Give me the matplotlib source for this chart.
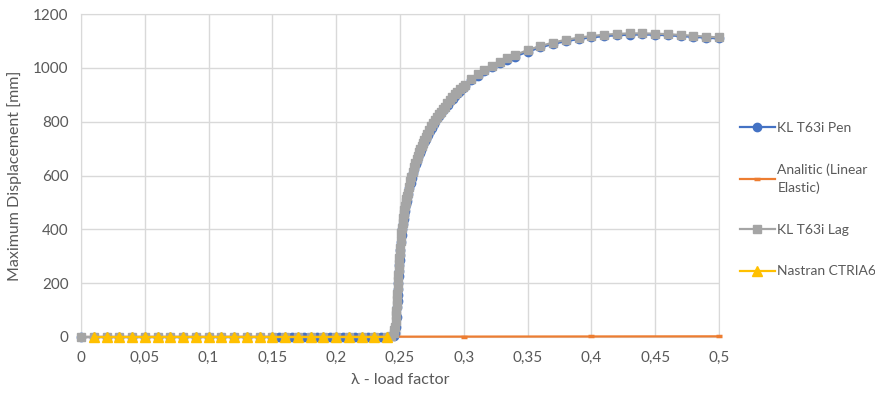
import matplotlib
matplotlib.use("Agg")
import matplotlib.pyplot as plt
from matplotlib.ticker import FixedLocator, FixedFormatter

plt.rcParams["font.family"] = ["Lato", "DejaVu Sans"]

TEXT = "#595959"
GRID = "#D9D9D9"

# KL T63i Pen
pen_lambda = [0.00, 0.01, 0.02, 0.03, 0.04, 0.05, 0.06, 0.07, 0.08, 0.09,
              0.10, 0.11, 0.12, 0.13, 0.14, 0.15, 0.155, 0.16, 0.165, 0.17,
              0.175, 0.18, 0.185, 0.19, 0.195, 0.20, 0.205, 0.21, 0.215,
              0.22, 0.225, 0.23, 0.235, 0.24, 0.245, 0.2458, 0.2465, 0.2473,
              0.2478, 0.24805, 0.2483, 0.24855, 0.2488, 0.24905, 0.2493,
              0.24955, 0.2498, 0.25005, 0.2503, 0.2508, 0.2513, 0.2518,
              0.2523, 0.2528, 0.2533, 0.2538, 0.2543, 0.2548, 0.2553, 0.2558,
              0.2563, 0.2573, 0.2583, 0.2593, 0.2603, 0.2613, 0.2623, 0.2633,
              0.2643, 0.2653, 0.2663, 0.2673, 0.2683, 0.2693, 0.2703, 0.2718,
              0.2733, 0.2748, 0.2763, 0.2778, 0.2793, 0.2808, 0.2823, 0.2838,
              0.2853, 0.2873, 0.2893, 0.2913, 0.2933, 0.2953, 0.2973, 0.2993,
              0.3013, 0.306, 0.311, 0.316, 0.322, 0.328, 0.334, 0.340, 0.350,
              0.360, 0.370, 0.380, 0.390, 0.400, 0.410, 0.420, 0.430, 0.440,
              0.450, 0.460, 0.470, 0.480, 0.490, 0.500]
pen_disp = [0, 0, 0, 0, 0, 0, 0, 0, 0, 0,
            0, 0, 0, 0, 0, 0, 0, 0, 0, 0,
            0, 0, 0, 0, 0, 0, 0, 0, 0,
            0, 0, 0, 0, 0, 2, 14, 38, 75,
            112, 133, 155, 178, 202, 225, 246,
            266, 286, 305, 323, 352, 379, 400,
            420, 437, 453, 468, 482, 495, 507, 519,
            530, 552, 573, 591, 609, 625, 641, 655,
            669, 682, 695, 706, 717, 727, 737, 751,
            765, 778, 790, 801, 812, 822, 832, 842,
            851, 863, 875, 886, 896, 906, 915, 924,
            933, 953, 971, 987, 1003, 1017, 1030, 1042, 1060,
            1076, 1089, 1099, 1107, 1113, 1118, 1121, 1123, 1124,
            1123, 1121, 1118, 1115, 1112, 1109]

# Analitic (Linear Elastic)
ana_lambda = [0.0, 0.1, 0.2, 0.3, 0.4, 0.5]
ana_disp = [0.0, 0.5, 1.0, 1.5, 2.0, 2.5]

# KL T63i Lag
lag_lambda = [0.00, 0.01, 0.02, 0.03, 0.04, 0.05, 0.06, 0.07, 0.08, 0.09,
              0.10, 0.11, 0.12, 0.13, 0.14, 0.15, 0.16, 0.17, 0.18, 0.19,
              0.20, 0.21, 0.22, 0.23, 0.24, 0.243, 0.245, 0.2455, 0.246,
              0.2465, 0.247, 0.24725, 0.2475, 0.24775, 0.248, 0.24825,
              0.2485, 0.24875, 0.249, 0.24925, 0.2495, 0.24975, 0.250,
              0.2505, 0.251, 0.2515, 0.252, 0.2525, 0.253, 0.2535, 0.254,
              0.2545, 0.255, 0.2555, 0.256, 0.257, 0.258, 0.259, 0.260,
              0.261, 0.262, 0.263, 0.264, 0.265, 0.266, 0.267, 0.268, 0.269,
              0.270, 0.2715, 0.273, 0.2745, 0.276, 0.2775, 0.279, 0.2805,
              0.282, 0.2835, 0.285, 0.287, 0.289, 0.291, 0.293, 0.295, 0.297,
              0.299, 0.301, 0.306, 0.311, 0.316, 0.322, 0.328, 0.334, 0.340,
              0.350, 0.360, 0.370, 0.380, 0.390, 0.400, 0.410, 0.420, 0.430,
              0.440, 0.450, 0.460, 0.470, 0.480, 0.490, 0.500]
lag_disp = [0, 0, 0, 0, 0, 0, 0, 0, 0, 0,
            0, 0, 0, 0, 0, 0, 0, 0, 0, 0,
            0, 0, 0, 0, 1, 4, 14, 25, 38,
            58, 80, 98, 118, 139, 160, 184,
            208, 230, 252, 272, 292, 311, 330,
            358, 385, 405, 425, 442, 458, 473, 487,
            500, 512, 524, 535, 557, 578, 596, 614,
            630, 646, 660, 674, 687, 700, 711, 722, 732,
            742, 756, 770, 783, 795, 806, 817, 827,
            837, 847, 856, 868, 880, 891, 901, 911, 920,
            929, 938, 958, 976, 992, 1008, 1022, 1035, 1047,
            1066, 1081, 1094, 1104, 1112, 1118, 1123, 1126, 1128,
            1128, 1127, 1125, 1122, 1119, 1116, 1113]

# Nastran CTRIA6
nas_lambda = [0.01, 0.02, 0.03, 0.04, 0.05, 0.06, 0.07, 0.08, 0.09, 0.10,
              0.11, 0.12, 0.13, 0.14, 0.15, 0.16, 0.17, 0.18, 0.19, 0.20,
              0.21, 0.22, 0.23, 0.24]
nas_disp = [0, 0, 0, 0, 0, 0, 0, 0, 0, 0,
            0, 0, 0, 0, 0, 0, 0, 0, 0, 0,
            0, 0, 0, 0]

x_ticks = [0, 0.05, 0.1, 0.15, 0.2, 0.25, 0.3, 0.35, 0.4, 0.45, 0.5]
x_tick_labels = ["0", "0,05", "0,1", "0,15", "0,2", "0,25", "0,3", "0,35",
                 "0,4", "0,45", "0,5"]
y_ticks = [0, 200, 400, 600, 800, 1000, 1200]

fig = plt.figure(figsize=(8.75, 3.94), dpi=100)
ax = fig.add_axes([81 / 875, 57 / 394, 638 / 875, 323 / 394])

ax.plot(pen_lambda, pen_disp, color="#4472C4", lw=1.6, marker="o",
        ms=6, label="KL T63i Pen", zorder=3, clip_on=False)
ax.plot(ana_lambda, ana_disp, color="#ED7D31", lw=1.6, marker="_",
        ms=5, mew=2.5, label="Analitic (Linear\nElastic)", zorder=4,
        clip_on=False)
ax.plot(lag_lambda, lag_disp, color="#A5A5A5", lw=1.6, marker="s",
        ms=6, label="KL T63i Lag", zorder=5, clip_on=False)
ax.plot(nas_lambda, nas_disp, color="#FFC000", lw=1.6, marker="^",
        ms=7, label="Nastran CTRIA6", zorder=6, clip_on=False)

ax.set_xlim(0, 0.5)
ax.set_ylim(0, 1200)
ax.xaxis.set_major_locator(FixedLocator(x_ticks))
ax.xaxis.set_major_formatter(FixedFormatter(x_tick_labels))
ax.yaxis.set_major_locator(FixedLocator(y_ticks))
ax.grid(True, color=GRID, lw=1)
ax.set_axisbelow(True)
for s in ax.spines.values():
    s.set_color(GRID)
ax.tick_params(length=0, labelsize=11, colors=TEXT)
ax.tick_params(axis="x", pad=10)
ax.tick_params(axis="y", pad=9)
ax.set_xlabel("λ - load factor", fontsize=11.5, color=TEXT, labelpad=6)
ax.set_ylabel("Maximum Displacement [mm]", fontsize=11.5, color=TEXT,
              labelpad=8)

leg = fig.legend(loc="upper left", bbox_to_anchor=(733 / 875, 1 - 115 / 394),
                 frameon=False, fontsize=10, labelcolor=TEXT,
                 handlelength=2.5, handletextpad=0.2, labelspacing=2.15,
                 borderpad=0)
for t in leg.get_texts():
    t.set_linespacing(1.45)

fig.savefig("out.png", dpi=100)
